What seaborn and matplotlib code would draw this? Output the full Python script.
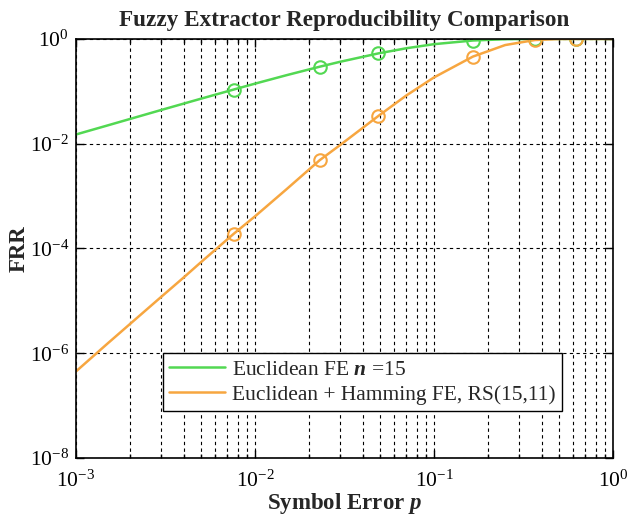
import numpy as np
import pandas as pd
import matplotlib
matplotlib.use("Agg")
import matplotlib.pyplot as plt
import seaborn as sns
from matplotlib.ticker import FixedLocator, NullLocator, LogLocator, FuncFormatter

# ---- data ----
p_vals = [0.001, 0.0015, 0.002, 0.003, 0.004, 0.005, 0.0076, 0.01, 0.015, 0.023,
          0.03, 0.049, 0.07, 0.1, 0.165, 0.25, 0.366, 0.5, 0.62, 0.8, 1.0]
frr_euclid = [0.015, 0.0223, 0.0296, 0.0441, 0.0583, 0.0724, 0.108, 0.140, 0.203, 0.295,
              0.367, 0.53, 0.663, 0.794, 0.933, 0.987, 0.999, 1.0, 1.0, 1.0, 1.0]
frr_hybrid = [4.5e-7, 1.53e-6, 3.6e-6, 1.2e-5, 2.8e-5, 5.5e-5, 1.9e-4, 4.1e-4, 1.35e-3, 4.85e-3,
              9.5e-3, 0.034, 0.083, 0.184, 0.46, 0.764, 0.952, 0.9963, 0.9997, 1.0, 1.0]
marker_p = [0.0076, 0.023, 0.049, 0.165, 0.366, 0.62]
marker_euclid = [0.108, 0.295, 0.53, 0.933, 0.999, 1.0]
marker_hybrid = [1.9e-4, 4.85e-3, 0.034, 0.46, 0.952, 0.9997]

series_names = ["Euclidean FE $n$ =15", "Euclidean + Hamming FE, RS(15,11)"]
colors = ["#52d852", "#f7a640"]

x_ticks = [1e-3, 1e-2, 1e-1, 1e0]
y_ticks = [1e-8, 1e-6, 1e-4, 1e-2, 1e0]

sns.set_style("ticks")
plt.rcParams["font.family"] = ["Liberation Serif", "DejaVu Serif"]
plt.rcParams["mathtext.fontset"] = "custom"
plt.rcParams["mathtext.rm"] = "Liberation Serif"
plt.rcParams["mathtext.it"] = "Liberation Serif:italic:bold"
plt.rcParams["mathtext.bf"] = "Liberation Serif:bold"

df = pd.DataFrame({
    "p": p_vals * 2,
    "FRR": frr_euclid + frr_hybrid,
    "series": [series_names[0]] * len(p_vals) + [series_names[1]] * len(p_vals),
})

fig = plt.figure(figsize=(6.28, 5.19), dpi=100)
ax = fig.add_axes([0.121, 0.1175, 0.855, 0.8075])

sns.lineplot(data=df, x="p", y="FRR", hue="series", palette=colors,
             linewidth=1.8, ax=ax, sort=True, estimator=None)
ax.plot(marker_p, marker_euclid, linestyle="none", marker="o", markersize=9,
        markerfacecolor="none", markeredgecolor=colors[0], markeredgewidth=1.5)
ax.plot(marker_p, marker_hybrid, linestyle="none", marker="o", markersize=9,
        markerfacecolor="none", markeredgecolor=colors[1], markeredgewidth=1.5)

ax.set_xscale("log")
ax.set_yscale("log")
ax.set_xlim(1e-3, 1)
ax.set_ylim(1e-8, 1)

ax.xaxis.set_major_locator(FixedLocator(x_ticks))
ax.xaxis.set_minor_locator(LogLocator(base=10, subs=np.arange(2, 10), numticks=20))
ax.xaxis.set_minor_formatter(plt.NullFormatter())
ax.yaxis.set_major_locator(FixedLocator(y_ticks))
ax.yaxis.set_minor_locator(NullLocator())
fmt = FuncFormatter(lambda v, pos: r"$10^{%d}$" % int(round(np.log10(v))))
ax.xaxis.set_major_formatter(fmt)
ax.yaxis.set_major_formatter(fmt)

ax.grid(True, which="major", axis="both", color="black", linestyle=(0, (3, 3)), linewidth=0.8)
ax.grid(True, which="minor", axis="x", color="black", linestyle=(0, (3, 3)), linewidth=0.8)

ax.tick_params(which="both", direction="in", top=True, right=True, labelsize=15.5, width=1, colors="black")
ax.tick_params(which="major", length=6)
ax.tick_params(which="minor", length=3)
ax.tick_params(axis="x", which="major", pad=9)
ax.tick_params(axis="y", which="major", pad=5)
for s in ax.spines.values():
    s.set_color("black")
    s.set_linewidth(1.2)

ax.set_title("Fuzzy Extractor Reproducibility Comparison", fontsize=16.7, fontweight="bold", pad=9)
ax.set_xlabel("Symbol Error $p$", fontsize=16.5, fontweight="bold")
ax.set_ylabel("FRR", fontsize=16.5, fontweight="bold")
ax.xaxis.set_label_coords(0.5, -0.078)
ax.yaxis.set_label_coords(-0.086, 0.5)

handles, labels = ax.get_legend_handles_labels()
leg = ax.legend(handles[:2], labels[:2], loc="upper left", bbox_to_anchor=(0.162, 0.2506),
                fontsize=15.5, frameon=True, fancybox=False, framealpha=1,
                edgecolor="black", borderpad=0.3, handlelength=2.6, handletextpad=0.3,
                labelspacing=0.25, borderaxespad=0)
leg.get_frame().set_linewidth(1.0)

fig.savefig("out.png", dpi=100)
